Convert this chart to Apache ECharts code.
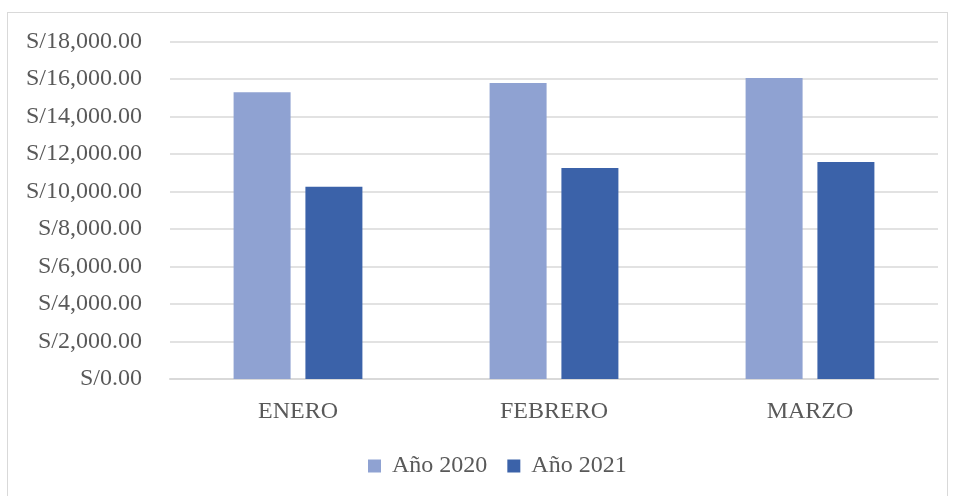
<!DOCTYPE html>
<html style="height: 100%">
<head>
<meta charset="UTF-8">
<title>Ventas</title>
<script src="https://cdn.jsdelivr.net/npm/echarts@6/dist/echarts.min.js"></script>
</head>
<body style="height: 100%; margin: 0; background: #fff">
<div id="frame" style="position:absolute; left:7px; top:12px; width:941px; height:490px; border:1.5px solid #d9d9d9; box-sizing:border-box"></div>
<div id="container" style="position:absolute; left:0; top:0; width:955px; height:496px"></div>
<script type="text/javascript">
var meses = ['ENERO', 'FEBRERO', 'MARZO'];
var anio2020 = [15300, 15790, 16050];
var anio2021 = [10250, 11250, 11580];

var dom = document.getElementById("container");
var myChart = echarts.init(dom);
var fuente = '"Liberation Serif", "Times New Roman", serif';
var option = {
	textStyle: { fontFamily: fuente },
	legend: {
		data: ['Año 2020', 'Año 2021'],
		top: 449,
		left: 363,
		itemWidth: 13,
		itemHeight: 13,
		itemGap: 20,
		icon: 'rect',
		textStyle: { fontFamily: fuente, fontSize: 24, color: '#595959', padding: [0, 0, 0, 6] }
	},
	grid: {
		left: 170,
		right: 17,
		top: 41.5,
		bottom: 117
	},
	xAxis: [{
		type: 'category',
		data: meses,
		axisTick: { show: false },
		axisLine: { lineStyle: { color: '#d9d9d9', width: 2 } },
		axisLabel: { fontFamily: fuente, fontSize: 24, color: '#595959', margin: 21 }
	}],
	yAxis: [{
		type: 'value',
		min: 0,
		max: 18000,
		interval: 2000,
		axisLine: { show: false },
		axisTick: { show: false },
		splitLine: { lineStyle: { color: '#d9d9d9', width: 1.5 } },
		axisLabel: {
			fontFamily: fuente, fontSize: 24, color: '#595959', margin: 28,
			formatter: function (v) {
				return 'S/' + v.toLocaleString('en-US', { minimumFractionDigits: 2, maximumFractionDigits: 2 });
			}
		}
	}],
	series: [
		{
			name: 'Año 2020',
			type: 'bar',
			data: anio2020,
			barWidth: 57,
			barGap: '26%',
			itemStyle: { color: '#8fa2d2' }
		},
		{
			name: 'Año 2021',
			type: 'bar',
			data: anio2021,
			barWidth: 57,
			itemStyle: { color: '#3b62a9' }
		}
	]
};
myChart.setOption(option, true);
</script>
</body>
</html>
